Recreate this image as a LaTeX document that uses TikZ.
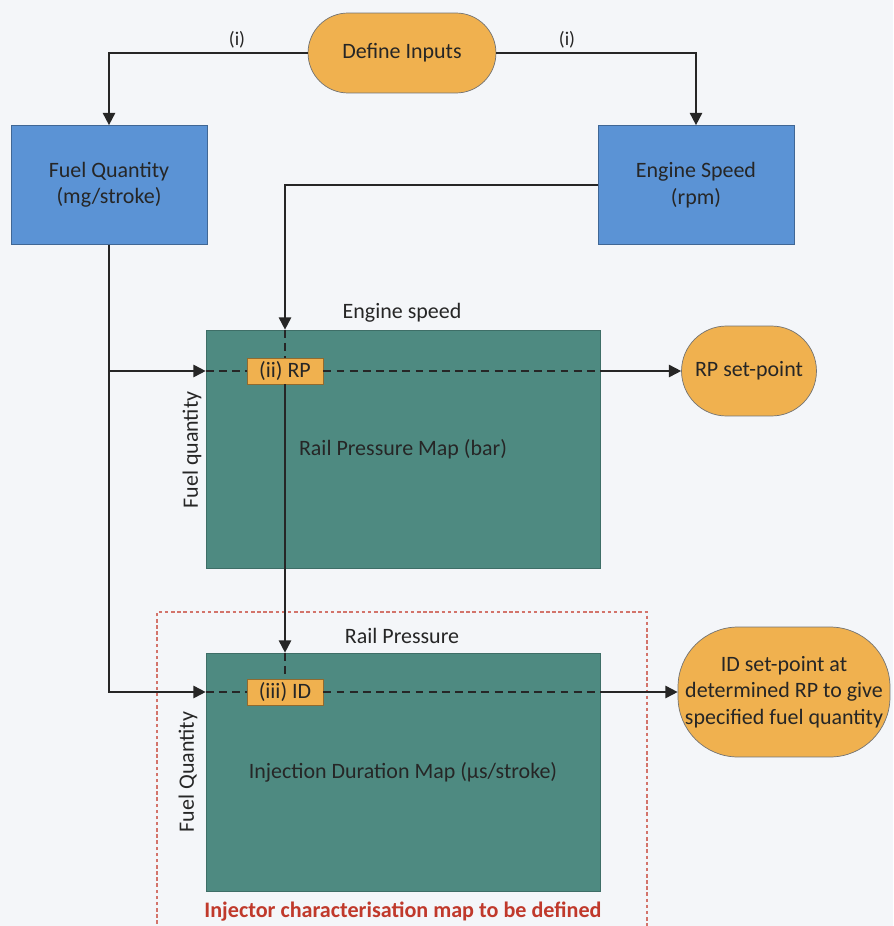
\documentclass[tikz,border=0pt]{standalone}
\usepackage{fontspec}
\setmainfont{Carlito}
\usetikzlibrary{arrows.meta,positioning,shapes.misc}
\definecolor{pillorange}{HTML}{F0B14F}
\definecolor{inblue}{HTML}{5B93D5}
\definecolor{mapteal}{HTML}{4E8A81}
\definecolor{bgpaper}{HTML}{F4F6F9}
\definecolor{txtgrey}{HTML}{262626}
\definecolor{markred}{HTML}{C0392B}

\begin{document}
\begin{tikzpicture}[x=0.02cm, y=-0.02cm, >={Triangle[length=7pt,width=7pt]},
  font=\fontsize{12.5}{15}\selectfont, text=txtgrey,
  pill/.style={rounded rectangle, draw=black!55, fill=pillorange, align=center, inner sep=2pt},
  bigpill/.style={rectangle, rounded corners=1.2cm, draw=black!55, fill=pillorange,
    align=center, inner sep=0pt},
  inbox/.style={rectangle, draw=inblue!70!black, fill=inblue, align=center,
    minimum width=3.92cm, minimum height=2.38cm},
  mapbox/.style={rectangle, draw=mapteal!80!black, fill=mapteal,
    minimum width=7.88cm, minimum height=4.76cm},
  tag/.style={rectangle, draw=pillorange!60!black, fill=pillorange,
    minimum width=1.52cm, minimum height=0.52cm, inner sep=1pt},
  conn/.style={line width=1pt, draw=black!85},
  dashconn/.style={line width=1.2pt, draw=black!85, dash pattern=on 4.5pt off 3pt}]

\fill[bgpaper] (0,0) rectangle (893,926);
\useasboundingbox (0,0) rectangle (893,926);

% inputs
\node[pill, minimum width=3.9cm, minimum height=1.6cm] (define) at (402,53) {Define Inputs};
\node[inbox] (fuel) at (109,185) {Fuel Quantity\\(mg/stroke)};
\node[inbox] (speed) at (696,185) {Engine Speed\\(rpm)};
\node[font=\fontsize{11}{13}\selectfont] (lbli1) at (237,40) {(i)};
\node[font=\fontsize{11}{13}\selectfont] (lbli2) at (567,40) {(i)};

% maps
\node[mapbox] (rpmap) at (403,449) {Rail Pressure Map (bar)};
\node[mapbox] (idmap) at (403,772) {Injection Duration Map (µs/stroke)};
\node[tag] (rp) at (285,371) {(ii) RP};
\node[tag] (id) at (285,692) {(iii) ID};
\node (lblspeed) at (402,313) {Engine speed};
\node[rotate=90] (lblfq1) at (192,450) {Fuel quantity};
\node (lblrail) at (402,636) {Rail Pressure};
\node[rotate=90] (lblfq2) at (188,772) {Fuel Quantity};

% outputs
\node[pill, minimum width=2.84cm, minimum height=1.8cm] (rpset) at (749,371) {RP set-point};
\node[bigpill, minimum width=4.24cm, minimum height=2.6cm] (idset) at (784,692)
  {ID set-point at\\determined RP to give\\specified fuel quantity};

% region to be defined
\draw[markred!70, line width=0.6pt, dash pattern=on 2pt off 1.5pt]
  (157,930) -- (157,612) -- (647,612) -- (647,930);
\node[font=\fontsize{12.6}{15}\selectfont\bfseries, text=markred] (lblinj) at (403,912)
  {Injector characterisation map to be defined};

% connectors
\draw[conn,->] (define.west) -| (fuel.north);
\draw[conn,->] (define.east) -| (speed.north);
\draw[conn,->] (speed.west) -| (rp.north |- rpmap.north);
\draw[dashconn] (rp.north |- rpmap.north) -- (rp.north);
\draw[conn,->] (rp.south) -- (rp.south |- idmap.north);
\draw[dashconn] (id.north |- idmap.north) -- (id.north);

\draw[conn,->] (fuel.south) |- (idmap.west |- id);
\draw[conn,->] (fuel.south |- rp) -- (rpmap.west |- rp);

\draw[dashconn] (rpmap.west |- rp) -- (rp.west);
\draw[dashconn] (rp.east) -- (rpmap.east |- rp);
\draw[conn,->] (rpmap.east |- rp) -- (rpset.west);

\draw[dashconn] (idmap.west |- id) -- (id.west);
\draw[dashconn] (id.east) -- (idmap.east |- id);
\draw[conn,->] (idmap.east |- id) -- (idset.west);
\end{tikzpicture}
\end{document}
